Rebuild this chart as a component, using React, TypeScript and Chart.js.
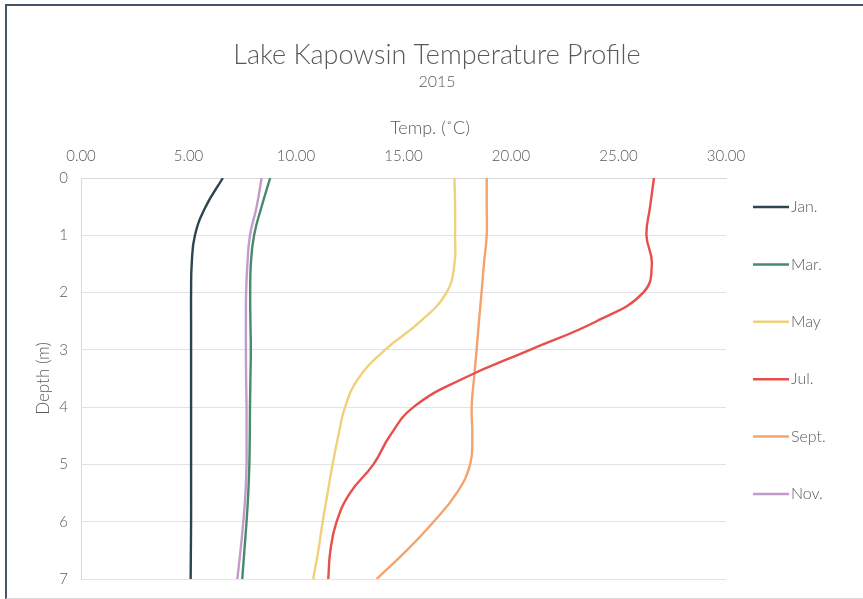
import React, { useEffect, useRef } from "react";
import { Chart, registerables } from "chart.js";

Chart.register(...registerables);

// ---- Data ----
const depths = [0, 0.5, 1, 1.5, 2, 2.5, 3, 3.5, 4, 4.5, 5, 5.5, 6, 6.5, 7];
const jan = [6.6, 5.8, 5.3, 5.15, 5.12, 5.12, 5.12, 5.12, 5.12, 5.12, 5.12, 5.12, 5.12, 5.11, 5.1];
const mar = [8.8, 8.4, 8.05, 7.9, 7.87, 7.88, 7.9, 7.88, 7.86, 7.85, 7.83, 7.78, 7.7, 7.6, 7.5];
const may = [17.37, 17.4, 17.4, 17.37, 17.0, 15.8, 14.14, 12.9, 12.28, 11.97, 11.7, 11.47, 11.24, 11.04, 10.8];
const jul = [26.65, 26.47, 26.3, 26.55, 26.15, 23.98, 20.88, 17.78, 15.46, 14.37, 13.6, 12.51, 11.89, 11.6, 11.5];
const sept = [18.87, 18.87, 18.87, 18.74, 18.63, 18.51, 18.4, 18.28, 18.17, 18.2, 18.1, 17.47, 16.4, 15.15, 13.75];
const nov = [8.4, 8.17, 7.86, 7.74, 7.68, 7.67, 7.67, 7.68, 7.7, 7.7, 7.7, 7.65, 7.55, 7.42, 7.27];

const seriesNames = ["Jan.", "Mar.", "May", "Jul.", "Sept.", "Nov."];
const seriesValues = [jan, mar, may, jul, sept, nov];
const seriesColors = ["#2b4551", "#4a8a6c", "#efd17c", "#e84f4a", "#f4a36c", "#c39bcb"];

const chartTitle = "Lake Kapowsin Temperature Profile";
const chartSubtitle = "2015";
const xAxisTitle = "Temp. (\u02DAC)";
const yAxisTitle = "Depth (m)";

const FONT = "Lato, 'Open Sans', sans-serif";
const TEXT = "#595959";

const decorPlugin = {
  id: "decor",
  afterDraw(chart: any) {
    const ctx = chart.ctx;
    ctx.save();
    ctx.fillStyle = TEXT;
    ctx.textAlign = "center";
    ctx.textBaseline = "middle";
    ctx.font = `300 27px ${FONT}`;
    ctx.fillText(chartTitle, 430, 49);
    ctx.font = `300 16px ${FONT}`;
    ctx.fillText(chartSubtitle, 430, 76);
    ctx.font = `300 18px ${FONT}`;
    ctx.fillText(xAxisTitle, 423, 122);

    // legend
    const ds = chart.data.datasets;
    ctx.textAlign = "left";
    ctx.font = `300 16px ${FONT}`;
    for (let i = 0; i < ds.length; i++) {
      const y = 201 + i * 57.4;
      ctx.strokeStyle = ds[i].borderColor;
      ctx.lineWidth = 2.5;
      ctx.beginPath();
      ctx.moveTo(746, y);
      ctx.lineTo(782, y);
      ctx.stroke();
      ctx.fillStyle = TEXT;
      ctx.fillText(ds[i].label, 784, y);
    }
    ctx.restore();
  },
};

export default function App() {
  const ref = useRef<HTMLCanvasElement | null>(null);

  useEffect(() => {
    if (!ref.current) return;
    const datasets = seriesNames.map((name, i) => ({
      label: name,
      data: depths.map((d, j) => ({ x: seriesValues[i][j], y: d })),
      borderColor: seriesColors[i],
      backgroundColor: seriesColors[i],
      borderWidth: 2.4,
      pointRadius: 0,
      showLine: true,
      tension: 0.45,
      fill: false,
    }));

    const chart = new Chart(ref.current, {
      type: "scatter",
      data: { datasets },
      plugins: [decorPlugin],
      options: {
        animation: false,
        responsive: false,
        devicePixelRatio: 1,
        layout: { padding: { top: 142, left: 0, right: 137, bottom: 19 } },
        plugins: {
          legend: { display: false },
          title: { display: false },
          tooltip: { enabled: false },
        },
        scales: {
          x: {
            type: "linear",
            position: "top",
            min: 0,
            max: 30,
            ticks: {
              stepSize: 5,
              padding: 13,
              color: TEXT,
              font: { family: FONT, size: 15, weight: "300" },
              callback: (v: any) => Number(v).toFixed(2),
            },
            grid: { display: false, drawTicks: false },
            border: { display: true, color: "#d9d9d9", width: 1 },
            afterFit: (scale: any) => {
              scale.height = 30;
              scale.paddingLeft = 0;
              scale.paddingRight = 0;
            },
          },
          y: {
            type: "linear",
            reverse: true,
            min: 0,
            max: 7,
            ticks: {
              stepSize: 1,
              padding: 13,
              color: TEXT,
              font: { family: FONT, size: 15, weight: "300" },
            },
            grid: { color: "#e3e3e3", drawTicks: false, lineWidth: 1 },
            border: { display: true, color: "#d9d9d9", width: 1 },
            title: {
              display: true,
              text: yAxisTitle,
              color: TEXT,
              font: { family: FONT, size: 17, weight: "300" },
              padding: { top: 26, bottom: 0 },
            },
            afterFit: (scale: any) => {
              scale.width = 74;
              scale.paddingTop = 0;
              scale.paddingBottom = 0;
            },
          },
        },
      },
    });
    return () => chart.destroy();
  }, []);

  return (
    <div style={{ position: "absolute", left: 0, top: 0, width: 863, height: 599, background: "#fff", overflow: "hidden" }}>
      <div
        style={{
          position: "absolute",
          left: 5,
          top: 4,
          width: 858,
          height: 592,
          borderLeft: "2px solid #44546a",
          borderTop: "2px solid #44546a",
          borderBottom: "1px solid #d9d9d9",
        }}
      >
        <canvas ref={ref} width={856} height={592} style={{ position: "absolute", left: 0, top: 0, width: 856, height: 592 }} />
      </div>
    </div>
  );
}
